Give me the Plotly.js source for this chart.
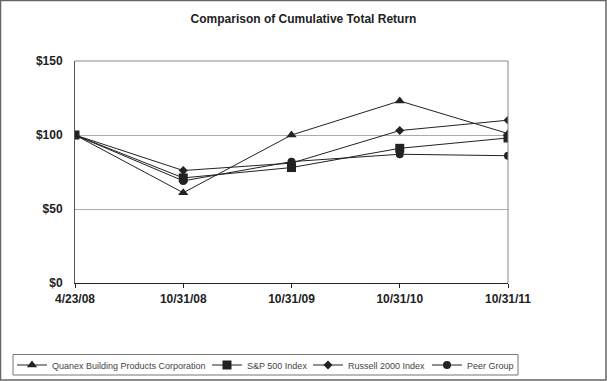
<!DOCTYPE html>
<html><head><meta charset="utf-8">
<script src="https://cdn.plot.ly/plotly-3.0.1.min.js"></script>
<style>body{margin:0;padding:0;background:#fff}#chart{width:607px;height:381px}</style>
</head><body><div id="chart"></div>
<script>
const categories = ["4/23/08", "10/31/08", "10/31/09", "10/31/10", "10/31/11"];
const quanex = [100, 61, 100, 123, 101];
const sp500 = [100, 71, 78, 91, 98];
const russell = [100, 76, 81, 103, 110];
const peer = [100, 69, 82, 87, 86];
const seriesNames = ["Quanex Building Products Corporation", "S&P 500 Index", "Russell 2000 Index", "Peer Group"];
const yTickVals = [0, 50, 100, 150];
const yTickText = ["$0", "$50", "$100", "$150"];

const L = 75, R = 99, T = 61, B = 98, W = 607, H = 381;
const pw = W - L - R, ph = H - T - B;
const px = v => (v - L) / pw;
const py = v => (H - B - v) / ph;

function tr(y, name, sym, size, lg) {
  return {x: [0,1,2,3,4], y: y, name: name, type: 'scatter', mode: 'lines+markers', legend: lg,
    line: {color: '#222', width: 1}, marker: {symbol: sym, size: size, color: '#222'}};
}
const data = [
  tr(quanex, seriesNames[0], 'triangle-up', 9, 'legend'),
  tr(sp500, seriesNames[1], 'square', 9, 'legend2'),
  tr(russell, seriesNames[2], 'diamond', 7, 'legend3'),
  tr(peer, seriesNames[3], 'circle', 8, 'legend4')
];
function lg(xpix) {
  return {orientation: 'h', xref: 'container', yref: 'container', x: xpix / W, y: 1 - 365 / H,
    xanchor: 'left', yanchor: 'middle', font: {size: 9, color: '#444'},
    borderwidth: 0, bgcolor: 'rgba(0,0,0,0)', itemwidth: 30};
}
const layout = {
  width: W, height: H,
  margin: {l: L, r: R, t: T, b: B, autoexpand: false},
  paper_bgcolor: '#fff', plot_bgcolor: '#fff',
  font: {family: 'Arial, Liberation Sans, sans-serif', color: '#222'},
  title: {text: '<b>Comparison of Cumulative Total Return</b>', font: {size: 12, color: '#222'}, x: 0.5, xanchor: 'center', y: 1 - 19/H, yanchor: 'middle'},
  xaxis: {range: [0, 4], tickvals: [0,1,2,3,4], ticktext: categories.map(c => '<b>' + c + '</b>'),
    showgrid: false, zeroline: false, ticks: 'outside', ticklen: 4, tickcolor: '#222',
    ticklabelstandoff: 1,
    showline: true, linecolor: '#222', linewidth: 1, mirror: false,
    tickfont: {size: 12, color: '#222'}},
  yaxis: {range: [0, 150], tickvals: yTickVals, ticktext: yTickText.map(t => '<b>' + t + '</b>'),
    showgrid: true, gridcolor: '#aaa', gridwidth: 1, zeroline: false,
    showline: true, linecolor: '#555', linewidth: 1, ticks: '', ticklen: 0,
    ticklabelstandoff: 9,
    tickfont: {size: 12, color: '#222'}},
  showlegend: true,
  legend: lg(12), legend2: lg(207), legend3: lg(308), legend4: lg(427),
  shapes: [
    {type: 'line', xref: 'paper', yref: 'paper', x0: 1, x1: 1, y0: 0, y1: 1, line: {color: '#888', width: 1}},
    {type: 'line', xref: 'paper', yref: 'paper', x0: 0, x1: 1, y0: 1, y1: 1, line: {color: '#888', width: 1}},
    {type: 'rect', xref: 'paper', yref: 'paper', x0: px(13), x1: px(518), y0: py(354.5), y1: py(375), line: {color: '#777', width: 1}},
    {type: 'rect', xref: 'paper', yref: 'paper', x0: px(0.5), x1: px(606), y0: py(0.5), y1: py(380), line: {color: '#666', width: 1.5}, layer: 'below'}
  ]
};
Plotly.newPlot('chart', data, layout, {displayModeBar: false, staticPlot: true});
</script></body></html>
